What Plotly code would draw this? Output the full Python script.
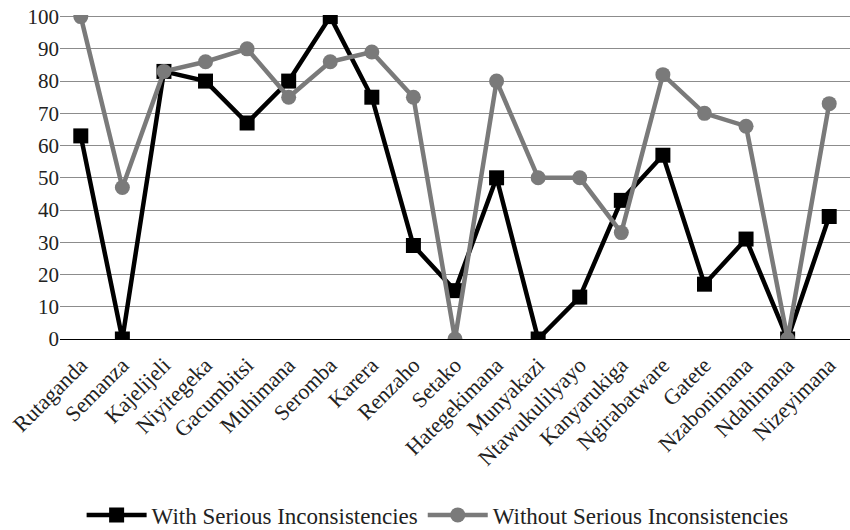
import plotly.graph_objects as go

categories = ["Rutaganda", "Semanza", "Kajelijeli", "Niyitegeka", "Gacumbitsi", "Muhimana",
              "Seromba", "Karera", "Renzaho", "Setako", "Hategekimana", "Munyakazi",
              "Ntawukulilyayo", "Kanyarukiga", "Ngirabatware", "Gatete", "Nzabonimana",
              "Ndahimana", "Nizeyimana"]
with_serious = [63, 0, 83, 80, 67, 80, 100, 75, 29, 15, 50, 0, 13, 43, 57, 17, 31, 0, 38]
without_serious = [100, 47, 83, 86, 90, 75, 86, 89, 75, 0, 80, 50, 50, 33, 82, 70, 66, 0, 73]
y_ticks = [0, 10, 20, 30, 40, 50, 60, 70, 80, 90, 100]

FONT = "Liberation Serif"

fig = go.Figure()
fig.add_trace(go.Scatter(
    x=categories, y=with_serious, name="With Serious Inconsistencies",
    mode="lines+markers", line=dict(color="black", width=4.5),
    marker=dict(symbol="square", size=15, color="black"),
))
fig.add_trace(go.Scatter(
    x=categories, y=without_serious, name="Without Serious Inconsistencies",
    mode="lines+markers", line=dict(color="#7a7a7a", width=4.5),
    marker=dict(symbol="circle", size=15, color="#7a7a7a"),
))

fig.update_layout(
    width=850, height=530,
    margin=dict(l=60, r=0, t=15, b=191, autoexpand=False),
    plot_bgcolor="white", paper_bgcolor="white",
    font=dict(family=FONT, size=21, color="#222222"),
    showlegend=True,
    legend=dict(orientation="h", x=0.478, xanchor="center", y=-0.543, yanchor="middle",
                font=dict(family=FONT, size=23, color="#222222"), itemwidth=60,
                traceorder="normal"),
    xaxis=dict(type="category", tickangle=-45, showgrid=False, showline=False,
               ticks="", tickfont=dict(family=FONT, size=22, color="#222222"),
               ticklabelstandoff=8,
               range=[-0.5, len(categories) - 0.5], automargin=False),
    yaxis=dict(range=[0, 100.5], tickvals=y_ticks, showgrid=True, gridcolor="#8c8c8c",
               gridwidth=1, zeroline=True, zerolinecolor="black", zerolinewidth=1,
               showline=False, ticks="", tickfont=dict(family=FONT, size=21, color="#222222"),
               automargin=False),
)

post = """
document.body.style.margin = '0';
var st = document.createElement('style');
st.textContent = ".modebar-container { display: none !important; }";
document.head.appendChild(st);
"""

fig.write_html("out.html", post_script=post)
